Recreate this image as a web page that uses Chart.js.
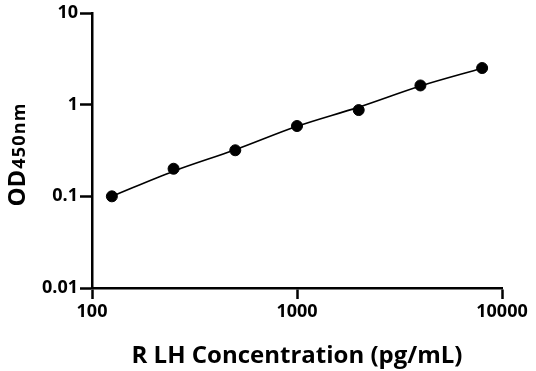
<!DOCTYPE html>
<html>
<head>
<meta charset="utf-8">
<script src="https://cdn.jsdelivr.net/npm/chart.js@4.4.1/dist/chart.umd.min.js"></script>
<style>
  html, body { margin: 0; padding: 0; background: #fff; }
  #wrap { width: 536px; height: 371px; position: relative; }
</style>
</head>
<body>
<div id="wrap"><canvas id="std-curve"></canvas></div>
<script>
// standard curve points
const concentrations = [125, 250, 500, 1000, 2000, 4000, 8000];
const odValues = [0.1, 0.2, 0.318, 0.585, 0.873, 1.62, 2.51];

// fitted curve
const fitX = [125, 250, 500, 1000, 2000, 4000, 8000];
const fitY = [0.1, 0.188, 0.322, 0.58, 0.94, 1.6, 2.5];

const xTicks = [100, 1000, 10000];
const yTicks = [0.01, 0.1, 1, 10];

const xTitle = 'R LH Concentration (pg/mL)';
const yTitleMain = 'OD';
const yTitleSub = '450nm';

const FONT = '"Open Sans", "DejaVu Sans", sans-serif';

// draw the y axis title with the smaller "450nm" part
const yTitlePlugin = {
    id: 'yTitle',
    afterDraw(chart) {
        const ctx = chart.ctx;
        ctx.save();
        ctx.translate(25, 155);
        ctx.rotate(-Math.PI / 2);
        ctx.fillStyle = '#000';
        ctx.textBaseline = 'alphabetic';
        ctx.font = 'bold 24px ' + FONT;
        const w1 = ctx.measureText(yTitleMain).width;
        ctx.font = 'bold 18px ' + FONT;
        ctx.letterSpacing = '1.2px';
        const w2 = ctx.measureText(yTitleSub).width;
        let x = -(w1 + w2) / 2;
        ctx.letterSpacing = '0px';
        ctx.font = 'bold 24px ' + FONT;
        ctx.fillText(yTitleMain, x, 0);
        ctx.font = 'bold 18px ' + FONT;
        ctx.letterSpacing = '1.2px';
        ctx.fillText(yTitleSub, x + w1 + 1, 0);
        ctx.restore();
    }
};

const ctx = document.getElementById('std-curve').getContext('2d');
const chart = new Chart(ctx, {
    type: 'scatter',
    data: {
        datasets: [{
            label: 'Fit',
            data: fitX.map((x, i) => ({ x: x, y: fitY[i] })),
            showLine: true,
            borderColor: '#000',
            borderWidth: 1.6,
            pointRadius: 0,
            tension: 0.4,
            cubicInterpolationMode: 'monotone',
            order: 2
        }, {
            label: 'OD450',
            data: concentrations.map((x, i) => ({ x: x, y: odValues[i] })),
            backgroundColor: '#000',
            borderColor: '#000',
            pointRadius: 5.5,
            pointHoverRadius: 5.5,
            order: 1
        }]
    },
    options: {
        responsive: true,
        maintainAspectRatio: false,
        animation: false,
        layout: {
            padding: { top: 13, right: 34, left: 0, bottom: 0 }
        },
        plugins: {
            legend: { display: false },
            tooltip: { enabled: false }
        },
        scales: {
            x: {
                type: 'logarithmic',
                min: 100,
                max: 10000,
                afterBuildTicks: scale => {
                    scale.ticks = xTicks.map(v => ({ value: v }));
                },
                afterFit: scale => { scale.height = 83; },
                border: { display: true, color: '#000', width: 2.5 },
                grid: {
                    display: true,
                    drawOnChartArea: false,
                    drawTicks: true,
                    tickLength: 11,
                    tickColor: '#000',
                    tickWidth: 2.5
                },
                ticks: {
                    color: '#000',
                    padding: 2,
                    maxRotation: 0,
                    font: { family: FONT, size: 18, weight: 'bold' },
                    callback: v => String(v)
                },
                title: {
                    display: true,
                    text: xTitle,
                    color: '#000',
                    padding: { top: 1, bottom: 0 },
                    font: { family: FONT, size: 24, weight: 'bold' }
                }
            },
            y: {
                type: 'logarithmic',
                min: 0.01,
                max: 10,
                afterBuildTicks: scale => {
                    scale.ticks = yTicks.map(v => ({ value: v }));
                },
                afterFit: scale => { scale.width = 92; },
                border: { display: true, color: '#000', width: 2.5 },
                grid: {
                    display: true,
                    drawOnChartArea: false,
                    drawTicks: true,
                    tickLength: 12,
                    tickColor: '#000',
                    tickWidth: 2.5
                },
                ticks: {
                    color: '#000',
                    padding: 2,
                    font: { family: FONT, size: 18, weight: 'bold' },
                    callback: v => String(v)
                }
            }
        }
    },
    plugins: [yTitlePlugin]
});
</script>
</body>
</html>
